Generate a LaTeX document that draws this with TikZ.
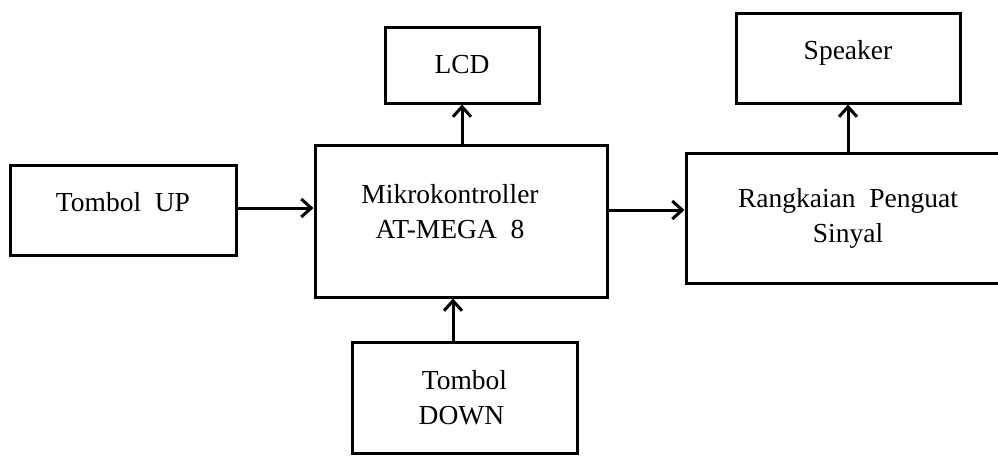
\documentclass[tikz,border=0pt]{standalone}
\usepackage{fontspec}
\setmainfont{Liberation Serif}
\usetikzlibrary{arrows.meta}
\begin{document}
\begin{tikzpicture}[x=1pt,y=-1pt,
  box/.style={draw, line width=3pt, rectangle, align=center, inner sep=0pt,
    font=\fontsize{27.5}{35}\selectfont},
  arr/.style={line width=3pt, -{Straight Barb[length=10pt,width=18pt]}}]
\useasboundingbox (0,0) rectangle (998,456);
\node[box, minimum width=226pt, minimum height=90pt, text depth=16pt] (up) at (123,210) {Tombol\ \ UP};
\node[box, minimum width=292pt, minimum height=152pt, text depth=20pt] (mk) at (461,221) {Mikrokontroller\hspace*{22pt}\\AT-MEGA\ \ 8\hspace*{22pt}};
\node[box, minimum width=154pt, minimum height=76pt] (lcd) at (462,65) {LCD};
\node[box, minimum width=224pt, minimum height=90pt, text depth=16pt] (spk) at (848,58) {Speaker};
\node[box, minimum width=324pt, minimum height=130pt] (rs) at (848,218) {Rangkaian\ \ Penguat\\Sinyal};
\node[box, minimum width=225pt, minimum height=111pt] (dn) at (464.5,397.5) {Tombol\\DOWN\hspace*{6pt}};
\draw[arr] ([yshift=2pt]up.east) -- ([yshift=2pt]up.east -| mk.west);
\draw[arr] ([yshift=11pt]mk.east) -- ([yshift=11pt]mk.east -| rs.west);
\draw[arr] (mk.north -| lcd.south) -- (lcd.south);
\draw[arr] (rs.north -| spk.south) -- (spk.south);
\draw[arr] ([xshift=-11.5pt]dn.north) -- ([xshift=-11.5pt]dn.north |- mk.south);
\end{tikzpicture}
\end{document}
